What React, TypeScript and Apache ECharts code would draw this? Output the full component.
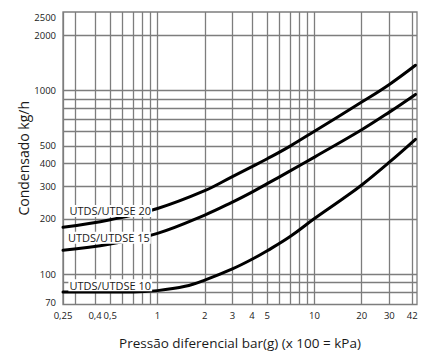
import { useEffect, useRef } from "react";
import * as echarts from "echarts";

// ---- data ----
const seriesNames = ["UTDS/UTDSE 20", "UTDS/UTDSE 15", "UTDS/UTDSE 10"];

const curve20X = [0.25, 0.5, 1, 2, 3, 4, 5, 7, 10, 20, 30, 44];
const curve20Y = [180, 198, 228, 285, 340, 385, 425, 498, 600, 864, 1078, 1370];

const curve15X = [0.25, 0.5, 1, 2, 3, 4, 5, 7, 10, 20, 30, 44];
const curve15Y = [135, 146, 167, 210, 247, 280, 311, 365, 434, 611, 762, 951];

const curve10X = [0.25, 0.5, 0.7, 1, 1.5, 2, 3, 4, 5, 7, 10, 15, 20, 30, 44];
const curve10Y = [80, 80, 80, 81.5, 86, 93, 107, 120.7, 134.3, 160.5, 201, 256, 306, 407, 542];

const xGridValues = [0.25, 0.3, 0.4, 0.5, 0.6, 0.7, 0.8, 0.9, 1, 2, 3, 4, 5, 6, 7, 8, 9, 10, 20, 30, 42];
const xTickValues = [0.25, 0.4, 0.5, 1, 2, 3, 4, 5, 10, 20, 30, 42];
const xTickLabels = ["0,25", "0,4", "0,5", "1", "2", "3", "4", "5", "10", "20", "30", "42"];

const yGridValues = [80, 90, 100, 200, 300, 400, 500, 600, 700, 800, 900, 1000, 2000];
const yTickValues = [70, 100, 200, 300, 400, 500, 1000, 2000, 2500];
const yTickLabels = ["70", "100", "200", "300", "400", "500", "1000", "2000", "2500"];

const xTitle = "Pressão diferencial bar(g) (x 100 = kPa)";
const yTitle = "Condensado kg/h";

export default function App() {
  const ref = useRef<HTMLDivElement>(null);

  useEffect(() => {
    if (!ref.current) return;
    const chart = echarts.init(ref.current, null, { renderer: "svg" });
    const font = "'Open Sans', 'Noto Sans', sans-serif";
    const gridColor = "#7d7d7d";
    const textColor = "#1a1a1a";

    const zip = (xs: number[], ys: number[]) => xs.map((x, i) => [x, ys[i]]);

    const xLines = xGridValues.map((v) => {
      const i = xTickValues.indexOf(v);
      return {
        xAxis: v,
        label: i >= 0 ? { show: true, formatter: xTickLabels[i], distance: 6 } : { show: false },
      };
    });
    const yAll = Array.from(new Set([...yGridValues, ...yTickValues])).sort((a, b) => a - b);
    const yLines = yAll.map((v) => {
      const i = yTickValues.indexOf(v);
      const drawLine = yGridValues.indexOf(v) >= 0;
      return {
        yAxis: v,
        lineStyle: drawLine ? undefined : { color: "rgba(0,0,0,0)" },
        label: i >= 0 ? { show: true, formatter: yTickLabels[i], distance: 7 } : { show: false },
      };
    });

    const curves = [
      { name: seriesNames[0], data: zip(curve20X, curve20Y), anchor: [0.5, 221] },
      { name: seriesNames[1], data: zip(curve15X, curve15Y), anchor: [0.49, 158] },
      { name: seriesNames[2], data: zip(curve10X, curve10Y), anchor: [0.5, 87.3] },
    ];

    chart.setOption({
      animation: false,
      grid: {
        left: 63,
        right: 8,
        top: 12,
        bottom: 49.5,
        show: true,
        borderColor: gridColor,
        borderWidth: 1.3,
        containLabel: false,
        outerBoundsMode: "none",
      },
      xAxis: {
        type: "log",
        logBase: 10,
        min: 0.25,
        max: 45,
        name: xTitle,
        nameLocation: "middle",
        nameGap: 31,
        nameTextStyle: { fontFamily: font, fontSize: 13.5, color: textColor },
        axisLine: { show: false },
        axisTick: { show: false },
        axisLabel: { show: false },
        splitLine: { show: false },
      },
      yAxis: {
        type: "log",
        logBase: 10,
        min: 68.5,
        max: 2670,
        name: yTitle,
        nameLocation: "middle",
        nameGap: 33,
        nameTextStyle: { fontFamily: font, fontSize: 14, color: textColor },
        axisLine: { show: false },
        axisTick: { show: false },
        axisLabel: { show: false },
        splitLine: { show: false },
      },
      series: [
        {
          type: "line",
          name: "grid",
          data: [],
          silent: true,
          z: 1,
          markLine: {
            silent: true,
            z: 1,
            symbol: ["none", "none"],
            animation: false,
            lineStyle: { color: gridColor, width: 1.3, type: "solid" },
            emphasis: { disabled: true },
            label: {
              show: false,
              position: "start",
              color: textColor,
              fontFamily: font,
              fontSize: 9.5,
            },
            data: [...xLines, ...yLines],
          },
        },
        ...curves.map((c) => ({
          type: "line",
          name: c.name,
          data: c.data,
          smooth: 0.4,
          showSymbol: false,
          symbol: "none",
          silent: true,
          z: 3,
          lineStyle: { color: "#000", width: 3, cap: "round" },
          emphasis: { disabled: true },
          markPoint: {
            silent: true,
            z: 10,
            symbol: "circle",
            symbolSize: 0,
            animation: false,
            label: {
              show: true,
              position: "inside",
              formatter: c.name,
              fontFamily: font,
              fontSize: 11,
              lineHeight: 12,
              color: textColor,
              backgroundColor: "#fff",
              padding: [0, 1],
            },
            data: [{ coord: c.anchor }],
          },
        })),
      ],
    });

    return () => chart.dispose();
  }, []);

  return (
    <div
      ref={ref}
      style={{ position: "fixed", left: 0, top: 0, width: 425, height: 354, background: "#fff" }}
    />
  );
}
